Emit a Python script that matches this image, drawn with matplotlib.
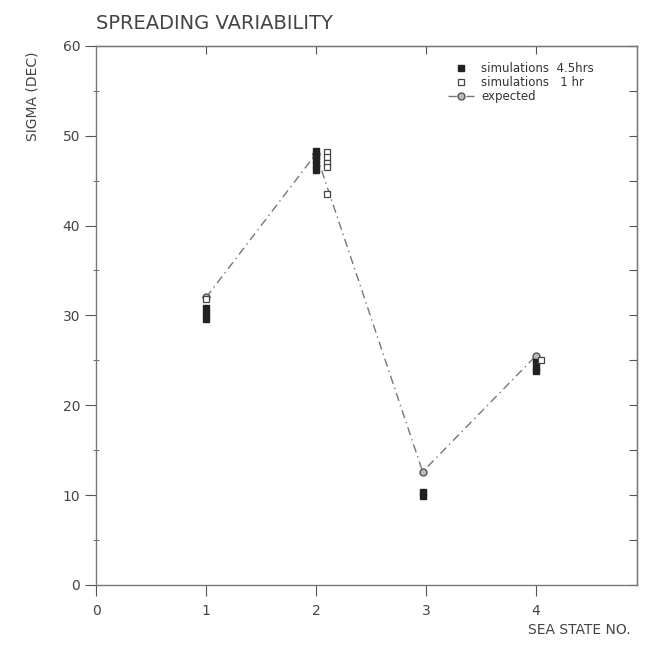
import matplotlib.pyplot as plt
import numpy as np

# expected sigma per sea state
sea_state = [1, 2, 2.97, 4]
expected = [32.0, 48.0, 12.6, 25.5]

# simulations 4.5 hrs (filled squares)
sim45_x = [1, 1, 1, 2, 2, 2, 2, 2, 2.97, 2.97, 4, 4, 4]
sim45_y = [30.8, 30.2, 29.6, 48.3, 47.8, 47.3, 46.8, 46.2, 10.3, 9.9, 24.8, 24.2, 23.8]

# simulations 1 hr (open squares)
sim1_x = [1, 2.1, 2.1, 2.1, 2.1, 2.1, 4.05]
sim1_y = [31.8, 48.2, 47.6, 47.0, 46.5, 43.5, 25.0]

grey = '#555555'

fig = plt.figure(figsize=(6.5, 6.47), dpi=100)
ax = fig.add_axes([0.148, 0.096, 0.832, 0.833])

ax.plot(sea_state, expected, linestyle=(0, (6, 3, 1, 3)), color='#777777', lw=1,
        marker='o', mfc='#bbbbbb', mec='#555555', ms=5, label='expected', zorder=2)
ax.plot(sim45_x, sim45_y, linestyle='none', marker='s', color='#222222', ms=4.5,
        label='simulations  4.5hrs', zorder=3)
ax.plot(sim1_x, sim1_y, linestyle='none', marker='s', mfc='white', mec='#444444', ms=4.5,
        mew=0.9, label='simulations   1 hr', zorder=3)

ax.set_xlim(0, 4.92)
ax.set_ylim(0, 60)
ax.set_xticks([0, 1, 2, 3, 4])
ax.set_yticks(np.arange(0, 61, 10))
ax.set_yticks(np.arange(5, 60, 10), minor=True)

ax.tick_params(axis='both', which='both', direction='out', color=grey, labelcolor='#444444',
               labelsize=10)
ax.tick_params(axis='y', which='major', length=8)
ax.tick_params(axis='y', which='minor', length=5, direction='inout')
ax.tick_params(axis='x', which='major', length=8, pad=6)
for s in ax.spines.values():
    s.set_color('#777777')
    s.set_linewidth(1)

# inner ticks on right/top
ax2 = ax.secondary_yaxis('right')
ax2.set_yticks(np.arange(0, 61, 5))
ax2.tick_params(direction='in', length=6, labelright=False, color=grey)
ax3 = ax.secondary_xaxis('top')
ax3.set_xticks([1, 2, 3, 4])
ax3.tick_params(direction='in', length=6, labeltop=False, color=grey)

h, l = ax.get_legend_handles_labels()
leg = ax.legend([h[1], h[2], h[0]], [l[1], l[2], l[0]], loc='upper right',
                bbox_to_anchor=(0.94, 0.99), frameon=False, fontsize=8.5, handlelength=2.2,
                labelspacing=0.1, handletextpad=0.6)
for t in leg.get_texts():
    t.set_color('#333333')

fig.text(0.148, 0.955, 'SPREADING VARIABILITY', fontsize=14, color='#444444', ha='left')
fig.text(0.05, 0.92, 'SIGMA (DEC)', fontsize=10, color='#444444', rotation=90, ha='center', va='top')
fig.text(0.97, 0.02, 'SEA STATE NO.', fontsize=10, color='#444444', ha='right')

fig.savefig('out.png', dpi=100)
